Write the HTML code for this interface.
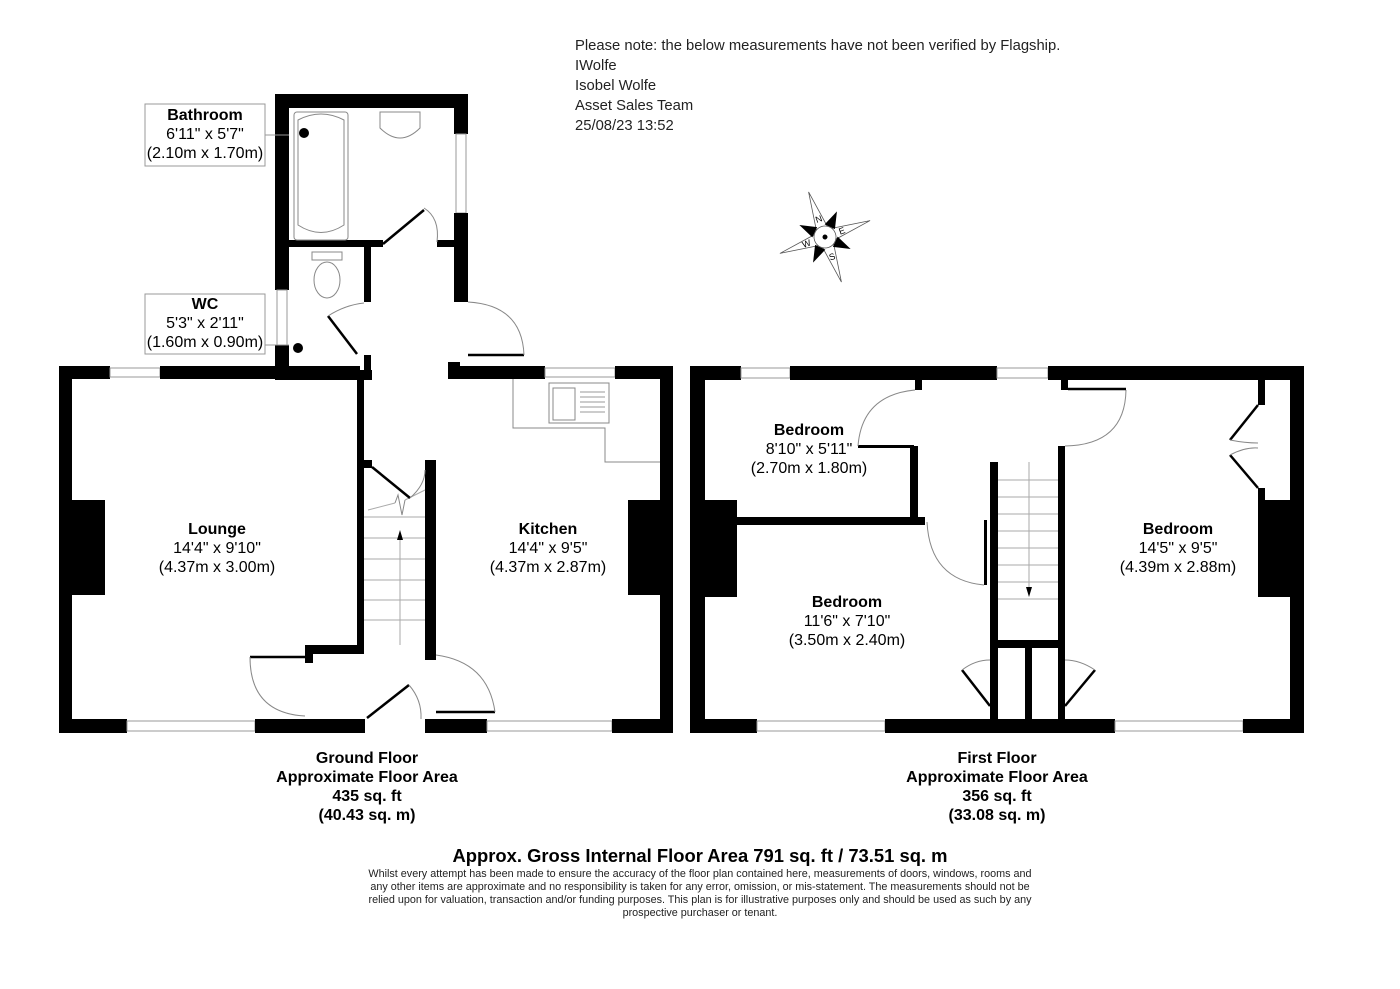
<!DOCTYPE html>
<html><head><meta charset="utf-8"><style>
body{margin:0;background:#fff;}
svg{display:block;font-family:"Liberation Sans",Arial,sans-serif;}
.w{fill:#000}
.win{fill:#fff;stroke:#999;stroke-width:1}
.t{fill:none;stroke:#888;stroke-width:1}
.d{fill:none;stroke:#000;stroke-width:2.5}
</style></head><body>
<svg width="1400" height="989" viewBox="0 0 1400 989" xmlns="http://www.w3.org/2000/svg">
<g font-size="14.8" fill="#222">
<text x="575" y="50">Please note: the below measurements have not been verified by Flagship.</text>
<text x="575" y="70">IWolfe</text>
<text x="575" y="90">Isobel Wolfe</text>
<text x="575" y="110">Asset Sales Team</text>
<text x="575" y="130">25/08/23 13:52</text>
</g>
<g transform="translate(825,237) rotate(-20)">
<polygon points="0,-48 6,-8 0,0 -6,-8" fill="#fff" stroke="#555" stroke-width="0.8"/>
<polygon points="0,48 6,8 0,0 -6,8" fill="#fff" stroke="#555" stroke-width="0.8"/>
<polygon points="48,0 8,6 0,0 8,-6" fill="#fff" stroke="#555" stroke-width="0.8"/>
<polygon points="-48,0 -8,6 0,0 -8,-6" fill="#fff" stroke="#555" stroke-width="0.8"/>
<polygon points="20,-20 12,-4 4,-12" fill="#000"/><polygon points="-20,-20 -12,-4 -4,-12" fill="#000"/>
<polygon points="20,20 12,4 4,12" fill="#000"/><polygon points="-20,20 -12,4 -4,12" fill="#000"/>
<circle r="11" fill="#fff" stroke="#555" stroke-width="0.8"/><circle r="2.5" fill="#000"/>
<text x="-3" y="-16" font-size="9">N</text><text x="-3" y="24" font-size="9">S</text>
<text x="15" y="3" font-size="9">E</text><text x="-24" y="3" font-size="9">W</text>
</g>

<rect class="w" x="275" y="94" width="193" height="14"/>
<rect class="w" x="275" y="94" width="14" height="196"/>
<rect class="win" x="277" y="290" width="10" height="55"/>
<rect class="w" x="275" y="345" width="14" height="35"/>
<rect class="w" x="454" y="94" width="14" height="40"/>
<rect class="win" x="456" y="134" width="10" height="79"/>
<rect class="w" x="454" y="213" width="14" height="89"/>
<rect class="w" x="289" y="240" width="94" height="7"/>
<rect class="w" x="437" y="240" width="17" height="7"/>
<rect class="w" x="364" y="247" width="7" height="55"/>
<rect class="w" x="364" y="355" width="7" height="25"/>
<rect class="w" x="289" y="370" width="83" height="10"/>
<rect class="t" x="294" y="112" width="54" height="128" rx="3"/>
<path class="t" d="M298,120 Q321,108 344,120 L344,225 Q321,240 298,225 Z"/>
<circle cx="304" cy="133" r="5" fill="#000"/>
<path class="t" d="M380,112 L420,112 L420,128 Q400,148 380,128 Z"/>
<path class="t" d="M312,252 L342,252 L342,260 L312,260 Z"/>
<ellipse class="t" cx="327" cy="280" rx="13" ry="18"/>
<circle cx="298" cy="348" r="5" fill="#000"/>
<line class="d" x1="383" y1="244" x2="424" y2="210"/>
<path class="t" d="M424,208 Q440,218 437,242"/>
<line class="d" x1="328" y1="316" x2="357" y2="354"/>
<path class="t" d="M328,316 Q345,305 364,303"/>
<line class="d" x1="468" y1="355" x2="524" y2="355"/>
<path class="t" d="M468,302 Q522,305 524,355"/>
<rect class="w" x="59" y="366" width="51" height="13"/>
<rect class="win" x="110" y="368" width="50" height="9"/>
<rect class="w" x="160" y="366" width="200" height="13"/>
<rect class="w" x="448" y="366" width="97" height="13"/>
<rect class="w" x="448" y="362" width="12" height="8"/>
<rect class="win" x="545" y="368" width="70" height="9"/>
<rect class="w" x="615" y="366" width="58" height="13"/>
<rect class="w" x="59" y="366" width="13" height="367"/>
<rect class="w" x="660" y="366" width="13" height="367"/>
<rect class="w" x="72" y="500" width="33" height="95"/>
<rect class="w" x="628" y="500" width="32" height="95"/>
<rect class="w" x="59" y="719" width="68" height="14"/>
<rect class="win" x="127" y="721" width="128" height="10"/>
<rect class="w" x="255" y="719" width="110" height="14"/>
<rect class="w" x="425" y="719" width="62" height="14"/>
<rect class="win" x="487" y="721" width="125" height="10"/>
<rect class="w" x="612" y="719" width="61" height="14"/>
<rect class="w" x="357" y="379" width="7" height="275"/>
<rect class="w" x="307" y="645" width="57" height="9"/>
<rect class="w" x="305" y="645" width="8" height="18"/>
<rect class="w" x="364" y="460" width="8" height="8"/>
<rect class="w" x="425" y="460" width="11" height="200"/>
<g stroke="#aaa" stroke-width="1">
<line x1="364" y1="517" x2="425" y2="517"/><line x1="364" y1="538" x2="425" y2="538"/>
<line x1="364" y1="559" x2="425" y2="559"/><line x1="364" y1="580" x2="425" y2="580"/>
<line x1="364" y1="600" x2="425" y2="600"/><line x1="364" y1="620" x2="425" y2="620"/>
<line x1="400" y1="540" x2="400" y2="645"/>
<line x1="368" y1="510" x2="395" y2="503"/><line x1="405" y1="500" x2="425" y2="490"/>
</g>
<path d="M395,503 L398,495 L402,515 L405,500" fill="none" stroke="#888"/>
<polygon points="400,530 397,540 403,540" fill="#000"/>
<line class="d" x1="372" y1="467" x2="410" y2="498"/>
<path class="t" d="M410,498 Q425,485 425,470"/>
<path class="t" d="M513,379 L513,428 L605,428 L605,462 L660,462"/>
<rect class="t" x="549" y="383" width="60" height="40"/>
<rect class="t" x="553" y="388" width="22" height="32"/>
<g stroke="#999"><line x1="580" y1="392" x2="605" y2="392"/><line x1="580" y1="397" x2="605" y2="397"/><line x1="580" y1="402" x2="605" y2="402"/><line x1="580" y1="407" x2="605" y2="407"/><line x1="580" y1="412" x2="605" y2="412"/></g>
<line class="d" x1="250" y1="657" x2="305" y2="657"/>
<path class="t" d="M250,657 Q250,713 305,716"/>
<line class="d" x1="367" y1="718" x2="409" y2="685"/>
<path class="t" d="M409,685 Q422,700 421,719"/>
<line class="d" x1="436" y1="712" x2="495" y2="712"/>
<path class="t" d="M436,655 Q488,662 495,712"/>
<g text-anchor="middle" font-size="16">
<text x="217" y="534" font-weight="bold">Lounge</text><text x="217" y="553">14'4" x 9'10"</text><text x="217" y="572">(4.37m x 3.00m)</text>
<text x="548" y="534" font-weight="bold">Kitchen</text><text x="548" y="553">14'4" x 9'5"</text><text x="548" y="572">(4.37m x 2.87m)</text>
</g>
<rect x="145" y="104" width="120" height="62" fill="#fff" stroke="#999"/>
<line x1="265" y1="135" x2="289" y2="135" stroke="#999"/>
<g text-anchor="middle" font-size="16">
<text x="205" y="120" font-weight="bold">Bathroom</text><text x="205" y="139">6'11" x 5'7"</text><text x="205" y="158">(2.10m x 1.70m)</text>
</g>
<rect x="145" y="294" width="120" height="60" fill="#fff" stroke="#999"/>
<line x1="265" y1="345" x2="289" y2="345" stroke="#999"/>
<g text-anchor="middle" font-size="16">
<text x="205" y="309" font-weight="bold">WC</text><text x="205" y="328">5'3" x 2'11"</text><text x="205" y="347">(1.60m x 0.90m)</text>
</g>

<rect class="w" x="690" y="366" width="51" height="14"/>
<rect class="win" x="741" y="368" width="49" height="10"/>
<rect class="w" x="790" y="366" width="207" height="14"/>
<rect class="win" x="997" y="368" width="51" height="10"/>
<rect class="w" x="1048" y="366" width="256" height="14"/>
<rect class="w" x="690" y="366" width="15" height="367"/>
<rect class="w" x="1290" y="366" width="14" height="367"/>
<rect class="w" x="705" y="500" width="32" height="97"/>
<rect class="w" x="1258" y="500" width="32" height="97"/>
<rect class="w" x="1258" y="380" width="7" height="25"/>
<rect class="w" x="1258" y="488" width="7" height="14"/>
<rect class="w" x="690" y="719" width="67" height="14"/>
<rect class="win" x="757" y="721" width="128" height="10"/>
<rect class="w" x="885" y="719" width="230" height="14"/>
<rect class="win" x="1115" y="721" width="128" height="10"/>
<rect class="w" x="1243" y="719" width="61" height="14"/>
<rect class="w" x="737" y="517" width="188" height="8"/>
<rect class="w" x="910" y="446" width="8" height="75"/>
<rect class="w" x="858" y="445" width="56" height="3"/>
<rect class="w" x="915" y="380" width="7" height="10"/>
<rect class="w" x="1061" y="380" width="7" height="10"/>
<rect class="w" x="990" y="462" width="8" height="258"/>
<rect class="w" x="1058" y="446" width="7" height="274"/>
<rect class="w" x="990" y="640" width="75" height="8"/>
<rect class="w" x="1025" y="648" width="7" height="71"/>
<rect class="w" x="984" y="520" width="3" height="65"/>
<g stroke="#aaa" stroke-width="1">
<line x1="998" y1="480" x2="1058" y2="480"/><line x1="998" y1="497" x2="1058" y2="497"/>
<line x1="998" y1="514" x2="1058" y2="514"/><line x1="998" y1="531" x2="1058" y2="531"/>
<line x1="998" y1="548" x2="1058" y2="548"/><line x1="998" y1="565" x2="1058" y2="565"/>
<line x1="998" y1="582" x2="1058" y2="582"/><line x1="998" y1="599" x2="1058" y2="599"/>
<line x1="1029" y1="462" x2="1029" y2="590"/>
</g>
<polygon points="1029,597 1026,587 1032,587" fill="#000"/>
<path class="t" d="M858,446 Q862,395 915,390"/>
<path class="t" d="M1065,446 Q1125,445 1126,390"/>
<line class="d" x1="1068" y1="389" x2="1126" y2="389"/>
<path class="t" d="M927,522 Q930,580 984,585"/>
<line class="d" x1="962" y1="670" x2="990" y2="706"/>
<path class="t" d="M962,670 Q975,660 990,660"/>
<line class="d" x1="1095" y1="670" x2="1065" y2="706"/>
<path class="t" d="M1095,670 Q1080,660 1065,660"/>
<line class="d" x1="1258" y1="405" x2="1230" y2="440"/>
<line class="d" x1="1258" y1="488" x2="1230" y2="455"/>
<path class="t" d="M1230,440 Q1245,443 1258,443 M1230,455 Q1245,447 1258,448"/>
<g text-anchor="middle" font-size="16">
<text x="809" y="435" font-weight="bold">Bedroom</text><text x="809" y="454">8'10" x 5'11"</text><text x="809" y="473">(2.70m x 1.80m)</text>
<text x="847" y="607" font-weight="bold">Bedroom</text><text x="847" y="626">11'6" x 7'10"</text><text x="847" y="645">(3.50m x 2.40m)</text>
<text x="1178" y="534" font-weight="bold">Bedroom</text><text x="1178" y="553">14'5" x 9'5"</text><text x="1178" y="572">(4.39m x 2.88m)</text>
</g>
<g text-anchor="middle" font-size="16" font-weight="bold">
<text x="367" y="763">Ground Floor</text><text x="367" y="782">Approximate Floor Area</text><text x="367" y="801">435 sq. ft</text><text x="367" y="820">(40.43 sq. m)</text>
<text x="997" y="763">First Floor</text><text x="997" y="782">Approximate Floor Area</text><text x="997" y="801">356 sq. ft</text><text x="997" y="820">(33.08 sq. m)</text>
<text x="700" y="862" font-size="18.4">Approx. Gross Internal Floor Area 791 sq. ft / 73.51 sq. m</text>
</g>
<g text-anchor="middle" font-size="10.8" fill="#222">
<text x="700" y="877">Whilst every attempt has been made to ensure the accuracy of the floor plan contained here, measurements of doors, windows, rooms and</text>
<text x="700" y="890">any other items are approximate and no responsibility is taken for any error, omission, or mis-statement. The measurements should not be</text>
<text x="700" y="903">relied upon for valuation, transaction and/or funding purposes. This plan is for illustrative purposes only and should be used as such by any</text>
<text x="700" y="916">prospective purchaser or tenant.</text>
</g>
</svg>
</body></html>
